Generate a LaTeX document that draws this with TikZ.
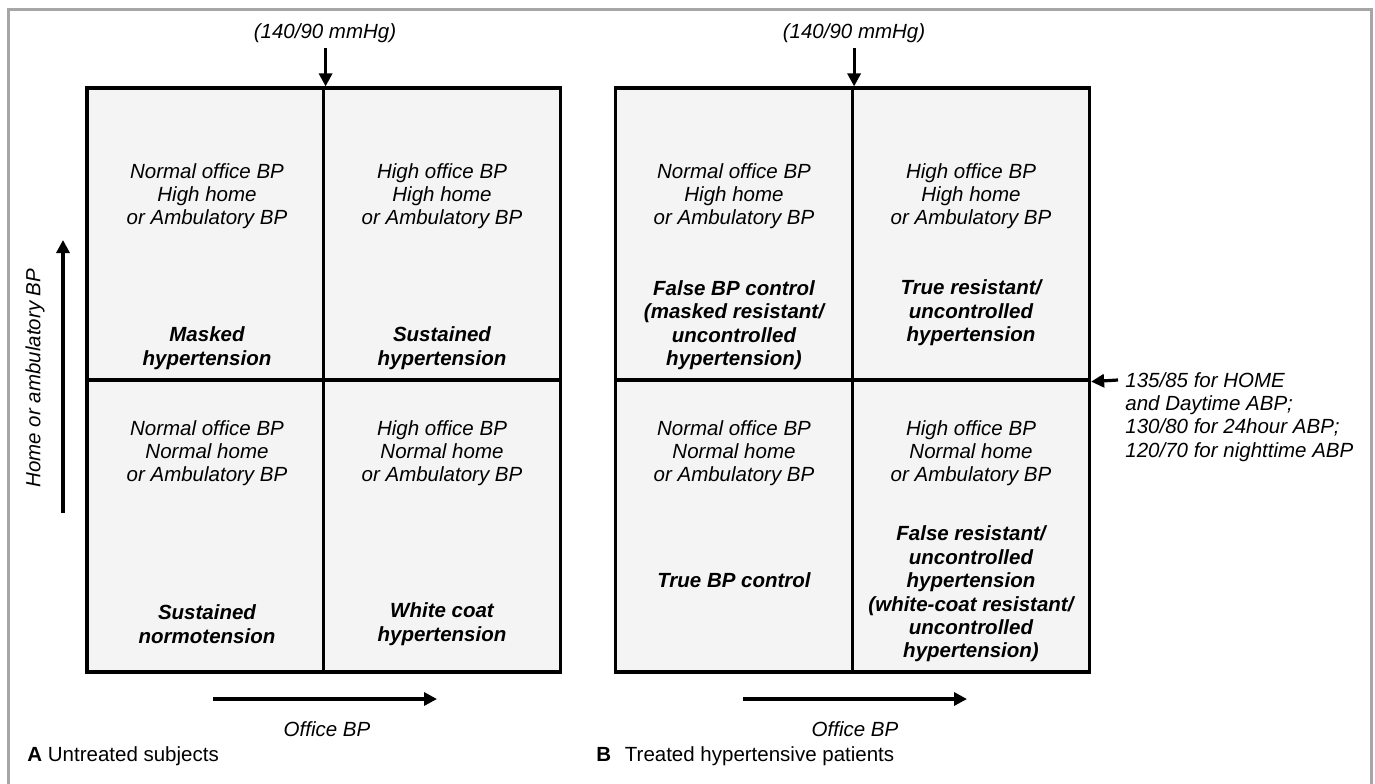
\documentclass[tikz,border=0pt]{standalone}
\usepackage{fontspec}
\setmainfont{Liberation Sans}
\usetikzlibrary{arrows.meta}
\definecolor{cellgray}{HTML}{F4F4F4}
\definecolor{framegray}{HTML}{A6A6A6}
\begin{document}
\begin{tikzpicture}[x=0.5pt,y=-0.5pt,
  cell/.style={draw=black, line width=1.6pt, fill=cellgray, minimum width=118.5pt, minimum height=146pt, inner sep=0pt},
  txt/.style={font=\fontsize{10.25}{11.6}\selectfont\itshape, align=center, inner sep=0pt},
  btxt/.style={font=\fontsize{10.25}{11.7}\selectfont\bfseries\itshape, align=center, inner sep=0pt},
  captxt/.style={font=\fontsize{10.25}{12}\selectfont, inner sep=0pt, anchor=west},
  arr/.style={line width=1.6pt, -{Triangle[length=6.5pt,width=6.5pt]}}]
\useasboundingbox (0,0) rectangle (1375,783);
\fill[white] (0,0) rectangle (1375,783);
% outer frame
\draw[framegray, line width=1.5pt] (8,830) -- (8,9) -- (1371,9) -- (1371,830);

% panel A cells
\node[cell] (A11) at (205.5,234) {};
\node[cell] (A12) at (442,234) {};
\node[cell] (A21) at (205.5,526) {};
\node[cell] (A22) at (442,526) {};
% panel B cells
\node[cell] (B11) at (734,234) {};
\node[cell] (B12) at (971,234) {};
\node[cell] (B21) at (734,526) {};
\node[cell] (B22) at (971,526) {};

% panel A texts
\node[txt] (ta11) at (207,196) {Normal office BP\\High home\\or Ambulatory BP};
\node[btxt] (ba11) at (207,348) {Masked\\hypertension};
\node[txt] (ta12) at (442,196) {High office BP\\High home\\or Ambulatory BP};
\node[btxt] (ba12) at (442,348) {Sustained\\hypertension};
\node[txt] (ta21) at (207,453) {Normal office BP\\Normal home\\or Ambulatory BP};
\node[btxt] (ba21) at (207,624) {Sustained\\normotension};
\node[txt] (ta22) at (442,453) {High office BP\\Normal home\\or Ambulatory BP};
\node[btxt] (ba22) at (442,624) {White coat\\hypertension};

% panel B texts
\node[txt] (tb11) at (734,196) {Normal office BP\\High home\\or Ambulatory BP};
\node[btxt] (bb11) at (734,325) {False BP control\\(masked resistant/\\uncontrolled\\hypertension)};
\node[txt] (tb12) at (971,196) {High office BP\\High home\\or Ambulatory BP};
\node[btxt] (bb12) at (971,313) {True resistant/\\uncontrolled\\hypertension};
\node[txt] (tb21) at (734,453) {Normal office BP\\Normal home\\or Ambulatory BP};
\node[btxt] (bb21) at (734,580) {True BP control};
\node[txt] (tb22) at (971,453) {High office BP\\Normal home\\or Ambulatory BP};
\node[btxt] (bb22) at (971,594) {False resistant/\\uncontrolled\\hypertension\\(white-coat resistant/\\uncontrolled\\hypertension)};

% thresholds
\node[txt] (thrA) at (325,33) {(140/90 mmHg)};
\node[txt] (thrB) at (854,33) {(140/90 mmHg)};
\draw[arr, shorten <=2.5pt] (thrA.south -| A11.north east) -- (A11.north east);
\draw[arr, shorten <=2.5pt] (thrB.south -| B11.north east) -- (B11.north east);

\node[txt, align=left, anchor=west] (rlab) at (1125,417) {135/85 for HOME\\and Daytime ABP;\\130/80 for 24hour ABP;\\120/70 for nighttime ABP};
\coordinate (thrR) at (1118,380);
\draw[arr] (thrR) -- (B12.south east);

% axes
\coordinate (yaxA0) at (63,513);
\coordinate (yaxA1) at (63,240);
\draw[arr] (yaxA0) -- (yaxA1);
\node[txt, rotate=90] (ylab) at (35,378) {Home or ambulatory BP};

\coordinate (xaxA0) at (213,699);
\coordinate (xaxA1) at (437,699);
\draw[arr] (xaxA0) -- (xaxA1);
\node[txt] (xlabA) at (327,729) {Office BP};

\coordinate (xaxB0) at (743,699);
\coordinate (xaxB1) at (967,699);
\draw[arr] (xaxB0) -- (xaxB1);
\node[txt] (xlabB) at (855,729) {Office BP};

% captions
\node[captxt] (capA) at (27,756) {\textbf{A} Untreated subjects};
\node[captxt] (capB) at (596,756) {\textbf{B}\hspace{4pt} Treated hypertensive patients};
\end{tikzpicture}
\end{document}
